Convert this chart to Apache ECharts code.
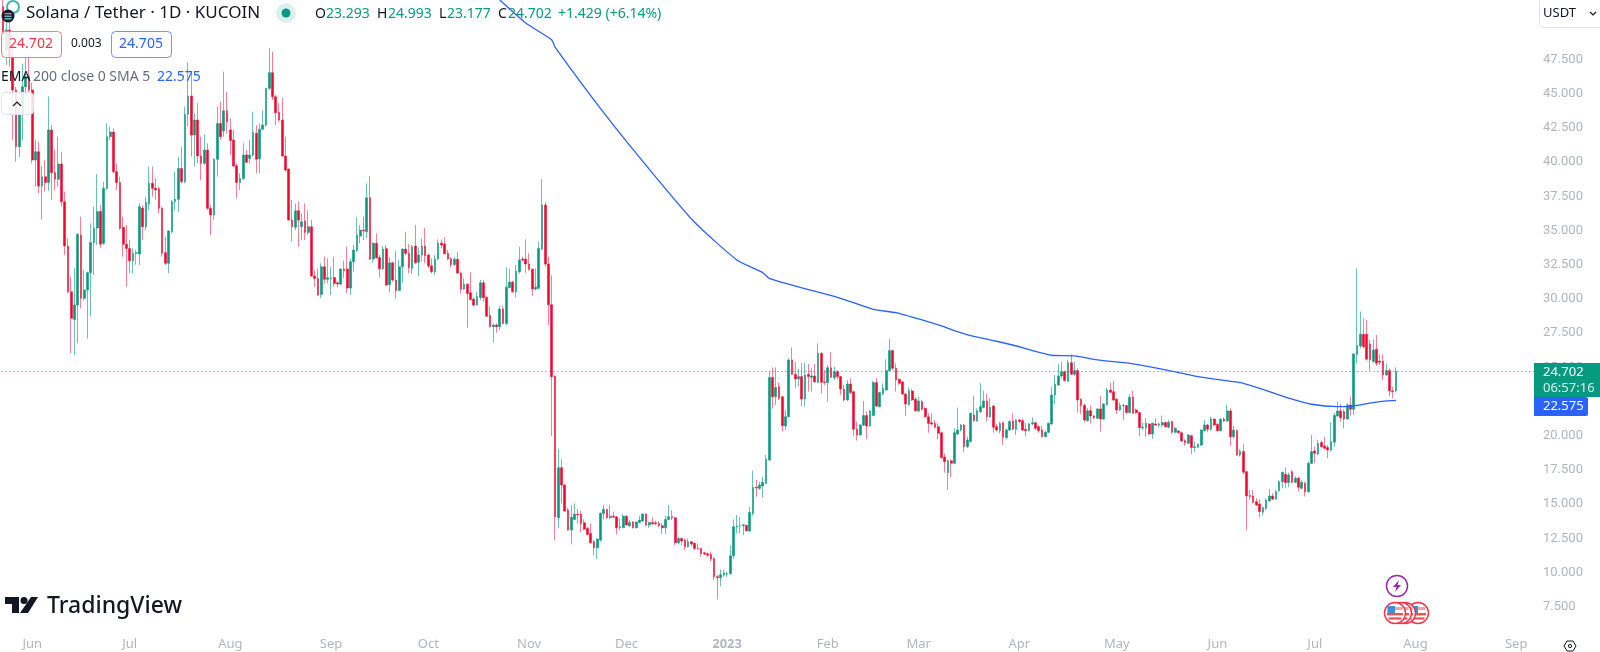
<!DOCTYPE html>
<html><head><meta charset="utf-8">
<style>html,body{margin:0;padding:0;background:#fff}#c{width:1600px;height:652px}</style>
<script src="https://cdn.jsdelivr.net/npm/echarts@6/dist/echarts.min.js"></script>
</head><body><div id="c"></div>
<script>
// [open, close, low, high], one per day starting 2022-05-23
const candles = [
[51.37,49.41,47.71,51.85],[48.2,49.66,47.1,50.4],[49.66,47.7,47.0,50.4],[47.7,45.27,41.6,48.4],[45.27,41.13,40.03,45.5],[41.13,43.56,40.35,43.8],[43.56,45.51,41.6,47.2],[45.5,46.25,43.6,47.7],[46.25,45.27,43.5,47.7],[45.27,40.15,39.9,45.8],
[40.15,40.76,38.2,41.6],[40.76,38.25,37.7,41.5],[38.25,38.93,35.8,39.7],[38.93,38.5,37.84,40.15],[38.5,42.35,37.9,44.8],[42.35,39.23,37.23,42.7],[39.23,38.74,37.96,40.9],[38.74,39.86,38.2,41.86],[39.86,37.1,36.74,40.76],[37.1,33.87,33.21,37.84],
[33.87,30.53,30.4,34.43],[30.53,28.58,26.02,31.62],[28.5,29.55,25.9,32.23],[29.55,34.72,26.75,34.8],[34.67,30.04,29.31,36.0],[30.04,30.65,29.9,32.1],[30.65,31.92,27.1,32.0],[31.92,34.13,28.7,35.52],[34.1,35.18,31.75,36.74],[35.18,36.38,33.94,39.13],
[36.38,33.99,33.69,36.86],[34.06,38.08,33.94,38.57],[38.08,41.86,37.96,42.83],[41.86,42.2,41.6,42.59],[42.2,39.3,39.18,42.47],[39.3,38.5,37.96,39.91],[38.5,35.16,35.03,38.93],[35.23,33.99,33.09,36.0],[33.99,33.69,30.89,35.4],[33.69,32.79,31.87,34.3],
[32.79,33.33,31.87,33.69],[33.33,33.38,32.5,33.6],[33.28,36.74,32.48,36.98],[36.64,35.28,34.3,36.86],[35.28,37.08,35.03,37.47],[36.94,38.45,36.5,39.67],[38.45,38.08,37.47,39.67],[38.08,37.96,37.23,38.81],[38.06,36.62,36.25,38.2],[36.62,33.33,33.09,36.74],
[33.38,32.6,32.48,34.55],[32.6,34.96,31.87,35.03],[34.91,37.11,34.79,37.23],[37.11,37.28,36.5,39.3],[37.28,39.54,36.38,40.4],[39.54,38.57,38.45,41.13],[38.57,43.49,38.45,44.05],[43.49,44.83,42.59,47.29],[44.83,41.98,40.4,46.61],[41.98,43.08,39.67,43.56],
[43.08,40.44,39.91,44.3],[40.44,39.91,38.69,41.86],[39.91,40.88,39.79,42.03],[40.88,36.62,36.5,41.37],[36.62,36.13,34.67,36.86],[36.13,40.2,35.77,40.27],[40.2,42.83,38.93,44.05],[42.83,41.86,41.62,44.42],[42.27,43.76,41.86,46.61],[43.76,42.95,42.1,45.15],
[42.35,41.57,40.52,43.2],[41.62,39.71,39.67,42.35],[39.74,38.5,37.35,39.91],[38.5,38.81,37.96,39.18],[38.81,40.52,38.69,41.37],[40.52,39.98,39.91,40.88],[40.27,40.52,39.9,41.6],[40.52,42.17,40.4,43.69],[42.1,40.2,39.18,42.71],[40.25,42.4,39.18,42.83],
[42.4,42.71,42.35,43.8],[42.71,45.39,42.59,45.39],[45.39,46.54,45.27,48.32],[46.54,44.78,44.54,48.07],[44.78,43.61,42.71,44.9],[43.64,43.08,42.95,44.3],[43.08,40.44,40.4,44.71],[40.44,39.42,39.3,41.86],[39.49,35.77,35.72,39.54],[35.77,35.28,34.18,37.23],
[35.23,36.45,35.03,36.98],[36.45,35.77,33.82,37.11],[35.28,35.64,34.3,36.25],[35.69,34.86,34.3,36.98],[34.86,35.28,34.67,36.5],[35.28,31.67,31.62,35.77],[31.67,31.5,30.89,32.11],[31.5,30.28,30.21,32.23],[30.33,32.35,30.04,32.6],[32.35,31.43,31.13,33.09],
[31.43,31.55,31.13,32.96],[31.5,31.55,30.28,32.35],[31.57,31.13,30.89,33.09],[31.18,31.09,30.85,31.26],[31.08,32.18,31.0,32.23],[32.18,32.06,31.5,32.8],[32.18,30.79,30.4,33.81],[30.79,32.72,30.28,32.96],[32.72,33.57,31.99,33.94],[33.52,34.67,33.45,35.96],
[34.59,35.03,34.06,35.4],[35.03,34.98,34.3,36.01],[34.91,37.4,34.42,38.44],[37.4,32.91,32.84,38.98],[32.91,34.06,32.64,34.18],[34.06,33.01,32.94,34.79],[33.03,32.2,31.55,33.2],[32.2,33.64,32.11,33.86],[33.67,31.01,30.94,33.94],[31.04,32.64,30.48,33.03],
[32.64,31.38,31.25,32.72],[31.38,30.62,30.04,33.52],[30.62,32.35,30.57,32.84],[32.35,33.64,31.21,33.69],[33.64,33.33,33.2,34.91],[33.33,32.28,31.86,34.01],[32.23,33.81,31.82,33.94],[33.86,32.64,32.55,35.4],[32.67,33.2,31.67,33.76],[33.2,33.86,32.72,34.42],
[33.86,33.16,32.6,35.2],[33.2,32.4,32.23,33.33],[32.42,31.99,31.86,32.96],[31.99,32.91,31.74,33.2],[32.91,34.08,32.84,34.35],[34.08,33.94,33.69,34.35],[34.01,33.3,33.25,34.5],[33.33,32.91,32.84,33.57],[32.94,32.52,32.3,33.03],[32.52,32.89,32.4,33.08],
[32.89,31.89,31.82,33.4],[31.89,30.72,30.4,31.99],[30.72,31.08,30.65,31.5],[31.08,30.4,27.89,31.13],[30.45,29.96,29.9,31.94],[29.99,29.55,29.43,30.11],[29.55,30.16,29.52,30.52],[30.11,31.18,29.9,31.38],[31.18,30.09,29.79,31.38],[30.11,28.74,28.7,30.23],
[28.79,27.97,27.89,29.47],[27.97,28.09,26.82,28.21],[28.09,27.97,27.53,28.21],[27.97,29.26,27.72,29.48],[29.26,28.21,28.16,29.48],[28.21,30.86,28.04,32.3],[30.82,31.23,30.77,32.18],[31.23,30.52,30.45,31.33],[30.52,32.03,30.11,32.47],[31.99,32.84,31.86,33.81],
[32.91,32.84,32.72,33.08],[32.91,32.55,31.91,34.35],[32.55,32.16,32.06,33.33],[32.16,30.72,30.23,32.23],[30.72,30.86,30.6,32.23],[30.77,33.69,30.69,34.16],[33.64,36.86,33.57,38.76],[36.86,32.55,32.35,37.05],[32.55,29.57,28.09,33.08],[29.57,24.31,19.97,31.72],
[24.36,14.08,12.37,24.4],[14.0,17.66,13.22,19.02],[17.66,16.39,15.05,18.27],[16.39,14.49,14.44,16.46],[14.56,13.1,13.05,14.73],[13.1,14.03,12.05,14.93],[13.88,14.27,13.83,15.05],[14.27,14.22,13.59,14.64],[14.27,13.59,12.93,14.51],[13.64,13.17,13.1,13.88],
[13.22,12.78,12.74,13.34],[12.86,12.17,12.13,13.59],[12.25,11.81,11.27,12.37],[11.81,12.44,10.96,12.49],[12.37,14.34,12.25,14.39],[14.32,14.61,13.88,14.93],[14.61,14.0,13.93,14.68],[14.0,14.12,13.93,14.93],[14.12,14.05,13.95,14.44],[14.07,13.27,12.78,14.12],
[13.27,13.34,13.1,13.95],[13.29,14.12,13.22,14.27],[14.12,13.47,13.42,14.2],[13.42,13.66,13.34,13.83],[13.69,13.27,13.22,13.76],[13.27,13.69,13.22,13.74],[13.66,13.83,13.59,14.15],[13.76,14.27,13.71,14.32],[14.27,13.47,13.39,14.32],[13.47,13.66,13.27,13.71],
[13.66,13.56,13.49,14.03],[13.64,13.56,13.47,13.78],[13.59,13.42,13.34,13.76],[13.42,13.27,12.81,13.59],[13.27,13.88,12.81,14.15],[13.88,14.08,13.83,14.93],[14.08,14.0,13.83,14.56],[14.0,12.17,12.0,14.08],[12.17,12.49,12.05,12.61],[12.49,12.3,12.0,12.56],
[12.37,11.88,11.64,12.49],[11.88,12.25,11.83,12.49],[12.25,12.08,11.93,12.3],[12.13,11.76,11.64,12.18],[11.78,11.74,11.69,12.13],[11.76,11.39,11.15,11.81],[11.44,11.35,11.27,11.52],[11.37,11.27,11.15,11.47],[11.32,10.98,10.79,11.52],[11.03,9.69,9.45,11.1],
[9.69,9.62,8.03,9.81],[9.62,9.84,8.99,10.23],[9.81,9.98,9.69,10.18],[9.89,9.93,9.69,10.05],[9.93,11.22,9.81,11.96],[11.22,13.34,10.98,13.88],[13.34,13.39,12.86,14.2],[13.39,13.42,12.86,14.07],[13.42,13.49,12.74,13.54],[13.44,13.05,13.0,13.49],
[13.03,14.39,12.95,14.81],[14.32,16.24,14.15,17.44],[16.24,16.17,15.54,16.76],[16.15,16.39,16.03,16.63],[16.32,16.59,15.46,17.0],[16.51,18.29,16.46,18.58],[18.22,24.26,18.17,24.7],[24.26,22.85,21.99,24.99],[22.85,23.53,22.24,24.99],[23.59,22.73,22.61,23.9],
[22.85,20.73,20.3,22.9],[20.71,21.39,20.42,21.88],[21.39,25.54,21.34,25.66],[25.54,24.49,24.44,26.46],[24.49,24.15,23.46,25.41],[24.15,24.32,23.59,24.88],[24.32,22.68,22.17,25.29],[22.68,24.44,22.12,25.34],[24.49,24.32,23.22,25.24],[24.27,24.37,23.22,24.93],
[24.37,23.95,23.83,25.24],[23.9,26.02,23.83,26.75],[26.02,23.9,23.1,26.1],[23.93,23.88,23.71,24.8],[23.88,24.97,22.49,25.17],[24.97,24.27,24.2,26.1],[24.24,24.68,24.07,25.05],[24.68,24.32,24.12,24.8],[24.32,23.42,22.98,24.37],[23.42,22.61,22.49,23.71],
[22.61,23.78,22.54,24.07],[23.78,23.15,23.05,24.2],[23.22,20.47,19.98,23.27],[20.47,20.05,19.64,21.03],[20.05,20.78,20.0,20.86],[20.78,21.47,20.71,22.54],[21.47,20.71,19.74,21.76],[20.71,21.81,20.66,21.88],[21.47,23.88,21.44,24.0],[23.88,22.17,22.07,24.2],
[22.12,23.15,22.07,23.22],[23.05,23.46,22.98,23.83],[23.34,24.76,23.29,25.58],[24.76,26.22,24.68,27.07],[26.22,24.93,24.8,26.27],[24.93,24.07,23.22,25.29],[24.12,23.83,23.71,24.2],[23.93,23.05,22.98,24.0],[23.05,22.32,21.44,23.1],[22.27,23.29,22.22,23.51],
[23.27,22.61,22.54,23.42],[22.66,21.83,21.76,22.81],[21.81,22.54,21.73,22.85],[22.49,21.93,21.83,22.61],[22.0,21.39,21.32,22.05],[21.39,20.9,20.22,21.64],[20.95,20.86,20.71,21.64],[20.9,20.61,20.54,21.15],[20.66,20.17,19.74,20.9],[20.22,18.4,18.27,20.3],
[18.44,18.1,17.3,18.71],[17.3,18.17,16.03,18.27],[18.17,17.98,16.96,18.27],[17.98,20.22,17.93,20.54],[20.12,20.42,20.05,22.05],[20.42,20.78,20.3,20.86],[20.78,19.2,18.8,20.86],[19.2,19.69,19.08,19.93],[19.57,21.64,19.49,21.69],[21.51,21.1,21.03,22.93],
[21.07,21.83,21.03,22.0],[21.76,22.12,21.64,23.83],[22.07,22.54,22.0,23.29],[22.54,21.39,21.03,23.05],[21.37,22.07,21.32,22.73],[22.17,20.61,20.22,22.25],[20.66,20.42,20.3,20.86],[20.37,20.9,20.17,21.03],[20.95,19.88,19.32,21.03],[19.86,20.42,19.74,20.54],
[20.42,21.03,20.34,21.15],[21.07,20.49,20.42,21.64],[20.47,21.15,20.05,21.2],[21.15,21.03,20.9,21.27],[21.1,20.42,20.34,21.25],[20.47,20.37,19.98,20.95],[20.37,20.86,20.3,20.95],[20.86,20.95,20.78,21.34],[20.95,20.54,20.42,21.03],[20.66,20.37,20.22,20.78],
[20.42,19.93,19.86,20.71],[19.93,20.25,19.88,20.37],[20.25,20.91,20.18,20.96],[20.86,22.98,20.79,23.59],[22.98,23.76,22.32,24.44],[23.71,24.37,23.64,25.25],[24.37,24.68,24.2,25.42],[24.68,24.03,23.95,24.76],[23.98,25.34,23.93,25.54],[25.34,24.49,24.42,25.95],
[24.49,24.76,24.37,25.42],[24.76,22.61,21.69,24.93],[22.66,22.2,21.59,22.74],[22.22,21.15,20.96,22.37],[21.1,21.83,21.03,22.0],[21.83,21.44,20.91,22.2],[21.44,21.32,21.2,21.52],[21.27,21.96,21.2,22.0],[21.96,21.22,20.3,22.91],[21.22,22.32,21.15,22.37],
[22.27,23.34,22.2,23.52],[23.34,23.17,23.1,23.88],[23.22,22.61,22.54,24.0],[22.66,21.88,21.59,22.74],[21.88,22.2,21.81,22.42],[22.22,22.2,21.15,22.3],[22.2,21.69,21.59,22.25],[21.69,22.81,21.64,23.05],[22.81,21.64,21.59,23.27],[21.88,21.69,21.59,22.0],
[21.69,20.59,19.98,21.76],[20.57,20.62,20.42,20.96],[20.57,20.91,19.93,21.27],[20.86,20.13,20.05,20.91],[20.13,20.91,19.76,20.96],[20.86,20.79,20.71,21.27],[20.79,20.86,20.62,20.96],[20.79,20.96,20.62,21.47],[20.96,20.66,20.59,21.03],[20.62,20.98,20.54,21.15],
[21.03,20.25,20.13,21.08],[20.25,20.54,20.18,20.62],[20.35,20.22,20.13,20.42],[20.22,19.62,19.54,20.3],[19.64,19.49,19.27,19.74],[19.45,20.05,19.4,20.13],[20.0,19.13,18.64,20.08],[19.13,19.2,18.84,19.57],[19.15,19.37,19.1,19.45],[19.32,20.42,19.25,20.47],
[20.37,20.79,20.3,21.15],[20.79,20.47,20.25,20.86],[20.47,21.22,20.37,21.39],[21.22,20.79,20.71,21.27],[20.83,20.37,20.3,20.91],[20.37,21.2,20.3,21.27],[21.22,21.08,21.0,21.34],[21.08,21.81,21.0,22.25],[21.81,19.93,19.25,22.0],[19.93,20.42,19.81,20.71],
[20.37,18.59,18.52,20.47],[18.59,18.88,18.47,19.0],[18.84,17.33,17.18,19.4],[17.37,15.59,13.11,17.42],[15.62,15.55,15.3,16.03],[15.59,15.13,15.06,16.03],[15.18,14.94,14.86,15.42],[15.01,14.45,14.04,15.35],[14.4,14.74,14.16,14.82],[14.69,15.3,14.57,15.42],
[15.23,15.59,15.18,16.11],[15.59,15.38,15.3,15.79],[15.38,15.91,15.3,16.03],[15.98,16.64,15.91,16.76],[16.64,17.33,16.16,17.37],[17.18,16.57,16.16,17.69],[16.57,17.13,16.23,17.3],[17.37,16.59,16.52,17.5],[16.59,16.89,16.52,17.01],[16.89,16.23,15.91,17.01],
[16.15,16.59,16.08,16.76],[16.52,15.91,15.55,16.64],[15.91,17.98,15.84,18.11],[17.98,18.84,17.93,20.05],[18.89,18.71,17.98,19.2],[18.67,19.45,18.59,19.69],[19.5,19.2,19.08,19.64],[19.25,19.08,19.01,19.93],[19.13,18.96,18.35,19.32],[18.96,19.57,18.84,20.98],
[19.52,21.47,19.2,21.64],[21.44,21.81,21.39,22.49],[21.81,21.32,21.03,22.32],[21.76,21.22,20.54,21.93],[21.22,22.25,21.15,22.37],[22.25,21.93,21.47,22.86],[21.93,25.98,21.52,26.03],[25.93,26.59,25.29,32.24],[26.56,27.41,26.39,29.07],[27.41,26.51,26.39,28.58],
[27.41,25.59,25.49,28.46],[26.71,25.54,24.76,27.0],[25.42,26.27,25.34,27.05],[26.32,25.29,25.1,27.37],[25.46,25.37,25.17,25.95],[25.46,24.44,24.08,25.95],[24.44,24.76,24.37,25.29],[24.76,23.27,22.86,24.93],[23.27,23.22,22.74,23.57],[23.293,24.702,23.177,24.993]
];
// EMA: day number in the candle list and value
const emaDays = [153,161,169,170,186,200,213,226,234,236,244,257,268,275,283,289,293,298,305,311,317,323,330,337,348,358,368,379,382,388,396,403,411,415,416,422,426,429];
const emaValues = [51.85,50.17,48.93,48.41,43.3,39.2,35.6,32.85,31.92,31.5,30.94,30.12,29.24,28.99,28.46,28.02,27.68,27.31,26.95,26.63,26.22,25.88,25.83,25.54,25.25,24.81,24.32,23.95,23.83,23.39,22.74,22.3,22.13,22.13,22.17,22.42,22.54,22.575];
const lastClose = 24.702;
const monthNames = ['Jan','Feb','Mar','Apr','May','Jun','Jul','Aug','Sep','Oct','Nov','Dec'];
const categories = [];
for (let i = 0; i < 472; i++) {
  categories.push(new Date(Date.UTC(2022, 4, 23 + i)).toISOString().slice(0, 10));
}
const UP = '#089981', DOWN = '#f7002a', BLUE = '#2962ff', GREY = '#b2b5be', INK = '#131722';
const FONT = '"Noto Sans", sans-serif';
const txt = (x, y, text, fill, size, extra) => ({ type: 'text', x, y, z: 20, silent: true,
  style: Object.assign({ text, fill, fontSize: size || 14, fontFamily: FONT, verticalAlign: 'middle', textVerticalAlign: 'middle' }, extra || {}) });
const box = (x, y, w, h, stroke, r, fill) => ({ type: 'rect', z: 19, silent: true,
  shape: { x, y, width: w, height: h, r: r }, style: { fill: fill || 'rgba(255,255,255,0.85)', stroke, lineWidth: 1 } });
const flag = (cx, cy) => ({ type: 'group', z: 21, children: [
  { type: 'circle', shape: { cx, cy, r: 10.5 }, style: { fill: '#fff', stroke: '#f7304a', lineWidth: 1.4 } },
  { type: 'rect', shape: { x: cx - 7.5, y: cy - 6, width: 15, height: 3 }, style: { fill: '#f7a0a8' } },
  { type: 'rect', shape: { x: cx - 8, y: cy + 0, width: 16, height: 2.4 }, style: { fill: '#ef5350' } },
  { type: 'rect', shape: { x: cx - 6.5, y: cy + 4.4, width: 13, height: 2.2 }, style: { fill: '#ef5350' } },
  { type: 'rect', shape: { x: cx - 7.5, y: cy - 7, width: 7.5, height: 7 }, style: { fill: '#3f8fd8' } }
]});
const graphics = [
  { type: 'circle', z: 19, shape: { cx: 13, cy: 7, r: 6 }, style: { fill: 'none', stroke: '#3fb8ac', lineWidth: 2 } },
  { type: 'circle', z: 20, shape: { cx: 8, cy: 16, r: 6.5 }, style: { fill: '#1a1d26' } },
  { type: 'rect', z: 21, shape: { x: 4.5, y: 13, width: 7, height: 1.3 }, style: { fill: '#b48cf0' } },
  { type: 'rect', z: 21, shape: { x: 4.5, y: 15.6, width: 7, height: 1.3 }, style: { fill: '#7fb8d8' } },
  { type: 'rect', z: 21, shape: { x: 4.5, y: 18.2, width: 7, height: 1.3 }, style: { fill: '#5fe0c0' } },
  txt(26, 13, 'Solana / Tether · 1D · KUCOIN', INK, 17),
  { type: 'circle', z: 19, shape: { cx: 286, cy: 13, r: 10 }, style: { fill: 'rgba(8,153,129,0.14)' } },
  { type: 'circle', z: 20, shape: { cx: 286, cy: 13, r: 4.5 }, style: { fill: UP } },
  txt(315, 14, 'O', INK, 14), txt(326, 14, '23.293', UP, 14),
  txt(377, 14, 'H', INK, 14), txt(388, 14, '24.993', UP, 14),
  txt(439, 14, 'L', INK, 14), txt(447, 14, '23.177', UP, 14),
  txt(498, 14, 'C', INK, 14), txt(508, 14, '24.702', UP, 14),
  txt(558, 14, '+1.429 (+6.14%)', UP, 14),
  box(1.5, 31.5, 60, 26, '#f77c80', 4),
  txt(31, 44, '24.702', '#f23645', 14, { align: 'center', textAlign: 'center' }),
  txt(71, 44, '0.003', INK, 12),
  box(111.5, 31.5, 60, 26, '#6f93ff', 4),
  txt(141, 44, '24.705', BLUE, 14, { align: 'center', textAlign: 'center' }),
  txt(1, 77, 'EMA', INK, 14),
  txt(33, 77, '200 close 0 SMA 5', '#6a6d78', 14),
  txt(157, 77, '22.575', BLUE, 14),
  box(1.5, 92.5, 32, 22, '#e0e3eb', 4),
  { type: 'polyline', z: 20, shape: { points: [[13, 106], [17, 102], [21, 106]] }, style: { fill: 'none', stroke: INK, lineWidth: 1.2 } },
  box(1539.5, -3.5, 70, 31, '#e0e3eb', 5, '#fff'),
  txt(1543, 13, 'USDT', INK, 13),
  { type: 'polyline', z: 20, shape: { points: [[1590, 12], [1593, 15], [1596, 12]] }, style: { fill: 'none', stroke: INK, lineWidth: 1.2 } },
  { type: 'rect', z: 19, shape: { x: 1534, y: 363, width: 66, height: 34 }, style: { fill: UP } },
  txt(1543, 372, '24.702', '#fff', 13), txt(1543, 388, '06:57:16', '#d8f0ea', 13),
  { type: 'rect', z: 19, shape: { x: 1534, y: 397, width: 54, height: 19, r: [0, 2, 2, 0] }, style: { fill: BLUE } },
  txt(1543, 406.5, '22.575', '#fff', 13),
  // TradingView mark
  { type: 'polygon', z: 20, shape: { points: [[5, 597], [19, 597], [19, 613], [12, 613], [12, 604], [5, 604]] }, style: { fill: INK } },
  { type: 'circle', z: 20, shape: { cx: 24, cy: 600.5, r: 3.5 }, style: { fill: INK } },
  { type: 'polygon', z: 20, shape: { points: [[31, 597], [38, 597], [28, 613], [20, 613]] }, style: { fill: INK } },
  txt(47, 606, 'TradingView', INK, 23, { fontWeight: 500 }),
  // events
  { type: 'circle', z: 20, shape: { cx: 1397, cy: 586, r: 10.5 }, style: { fill: '#fff', stroke: '#9c27b0', lineWidth: 1.5 } },
  { type: 'polygon', z: 21, shape: { points: [[1399, 580], [1393, 587], [1396.5, 587], [1395, 592], [1401, 585], [1397.5, 585]] }, style: { fill: '#9c27b0' } },
  flag(1418, 613), flag(1405, 613), flag(1401, 613), flag(1395, 613),
  // settings hexagon
  { type: 'polygon', z: 20, shape: { points: [[1567, 641], [1573, 641], [1576, 646], [1573, 651], [1567, 651], [1564, 646]] }, style: { fill: '#fff', stroke: INK, lineWidth: 1 } },
  { type: 'circle', z: 21, shape: { cx: 1570, cy: 646, r: 1.6 }, style: { fill: '#fff', stroke: INK, lineWidth: 1 } }
];
const chart = echarts.init(document.getElementById('c'), null, { renderer: 'canvas' });
chart.setOption({
  animation: false,
  backgroundColor: '#fff',
  grid: { left: 1.4, top: 25.3, width: 1532.6, height: 615.6, containLabel: false },
  xAxis: {
    type: 'category', data: categories, boundaryGap: true,
    axisLine: { show: false }, axisTick: { show: false }, splitLine: { show: false },
    axisLabel: {
      margin: -3, color: GREY, fontSize: 13, fontFamily: FONT, hideOverlap: false,
      interval: (i, v) => v.slice(8) === '01',
      formatter: v => v === '2023-01-01' ? '{y|2023}' : monthNames[+v.slice(5, 7) - 1],
      rich: { y: { color: GREY, fontSize: 13, fontWeight: 'bold', fontFamily: FONT } }
    }
  },
  yAxis: {
    type: 'value', position: 'right', min: 5, max: 50, interval: 2.5, scale: false,
    axisLine: { show: false }, axisTick: { show: false }, splitLine: { show: false },
    axisLabel: {
      margin: 9, color: GREY, fontSize: 13, fontFamily: 'Roboto, sans-serif',
      formatter: v => (v >= 7.5 && v <= 47.5) ? v.toFixed(3) : ''
    }
  },
  graphic: graphics,
  series: [
    {
      type: 'candlestick', data: candles, barWidth: 2.2, z: 2, clip: false,
      itemStyle: { color: UP, color0: DOWN, borderColor: 'rgba(8,153,129,0.6)', borderColor0: 'rgba(247,0,42,0.5)', borderWidth: 1 },
      markLine: {
        silent: true, symbol: 'none', animation: false, label: { show: false },
        lineStyle: { color: UP, type: [1, 3], width: 1, opacity: 1 },
        data: [{ yAxis: lastClose }]
      }
    },
    {
      type: 'line', data: emaDays.map((d, i) => [d, emaValues[i]]), showSymbol: false, symbol: 'none', z: 3, clip: false,
      lineStyle: { color: BLUE, width: 1.3 }, smooth: 0.2
    }
  ]
});
</script></body></html>
